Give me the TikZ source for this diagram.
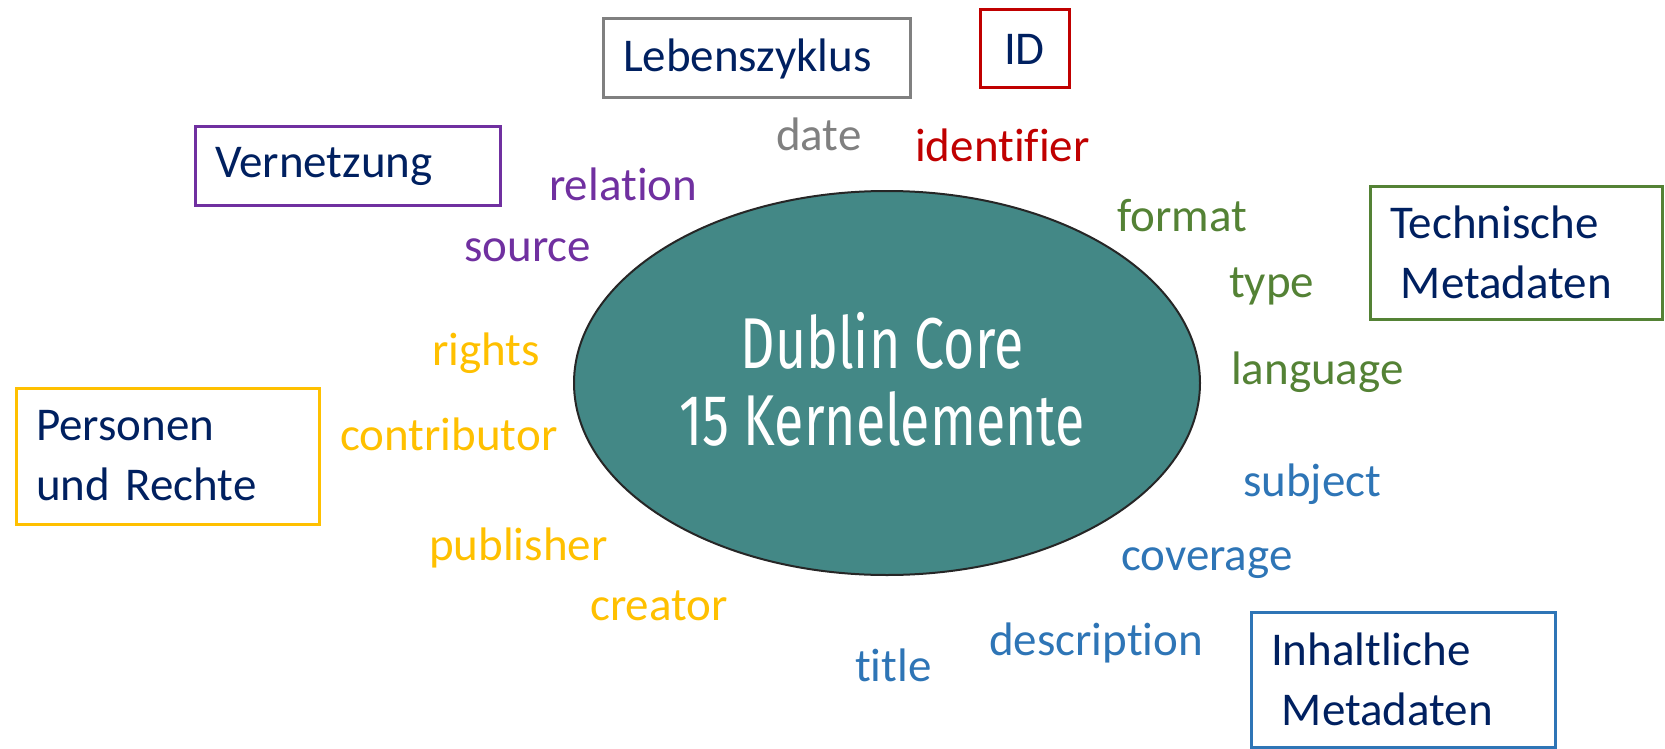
\documentclass[tikz,border=0pt]{standalone}
\usepackage{fontspec}
\setmainfont{Carlito}[Ligatures=NoCommon]
\newfontfamily\corefont{Fira Sans}[FakeStretch=0.745]
\usetikzlibrary{shapes.geometric}

\definecolor{navy}{HTML}{002060}
\definecolor{cgray}{HTML}{808080}
\definecolor{cred}{HTML}{C00000}
\definecolor{cpurple}{HTML}{7030A0}
\definecolor{cgreen}{HTML}{548235}
\definecolor{cyellow}{HTML}{FFC000}
\definecolor{cblue}{HTML}{2E75B6}
\definecolor{teal}{HTML}{438886}

\tikzset{
  every node/.style={font=\fontsize{47}{60}\selectfont},
  catbox/.style={draw=#1, line width=3pt, text=navy, inner xsep=20pt, inner ysep=0pt,
                 align=left, outer sep=0pt},
  elem/.style={text=#1, anchor=base west, inner sep=0pt},
  core/.style={ellipse, draw=black!85, line width=2pt, fill=teal, inner sep=0pt, outer sep=0pt}
}

\begin{document}
\begin{tikzpicture}[x=1pt,y=-1pt]
\useasboundingbox (0,0) rectangle (1665,749);

% central ellipse
\node[core, minimum width=626pt, minimum height=384pt] (dc) at (887,383) {};
\node[text=white, align=center, font=\corefont\fontsize{72}{77}\selectfont, anchor=base]
  (dctext) at (882,445) {Dublin Core\\15 Kernelemente};

% category boxes
\node[catbox=cgray, text width=267pt, minimum height=79pt] (leb) at (756.5,58.5) {Lebenszyklus};
\node[catbox=cred, inner xsep=0pt, minimum width=89pt, minimum height=78pt, align=center] (id) at (1024.5,49) {ID};
\node[catbox=cpurple, text width=265pt, minimum height=78pt] (vern) at (347.5,166) {Vernetzung};
\node[catbox=cgreen, text width=252pt, minimum height=133pt] (tech) at (1516,252.5)
  {Technische\\\hspace*{0.23em}Metadaten};
\node[catbox=cyellow, text width=263pt, minimum height=136pt] (pers) at (167.5,456)
  {Personen\\und Rechte};
\node[catbox=cblue, text width=264pt, minimum height=135pt] (inh) at (1403,679.5)
  {Inhaltliche\\\hspace*{0.23em}Metadaten};

% element names
\node[elem=cgray]   (date)   at (776,150) {date};
\node[elem=cred]    (ident)  at (915,161) {identifier};
\node[elem=cpurple] (rel)    at (549,200) {relation};
\node[elem=cpurple] (src)    at (464,261) {source};
\node[elem=cgreen]  (fmt)    at (1117,231) {format};
\node[elem=cgreen]  (typ)    at (1229,297) {type};
\node[elem=cgreen]  (lang)   at (1231,384) {language};
\node[elem=cyellow] (rights) at (432,365) {rights};
\node[elem=cyellow] (contr)  at (340,450) {contributor};
\node[elem=cyellow] (publ)   at (429,560) {publisher};
\node[elem=cyellow] (creat)  at (590,620) {creator};
\node[elem=cblue]   (subj)   at (1243,496) {subject};
\node[elem=cblue]   (cov)    at (1121,570) {coverage};
\node[elem=cblue]   (descr)  at (989,655) {description};
\node[elem=cblue]   (title)  at (855,681) {title};
\end{tikzpicture}
\end{document}
